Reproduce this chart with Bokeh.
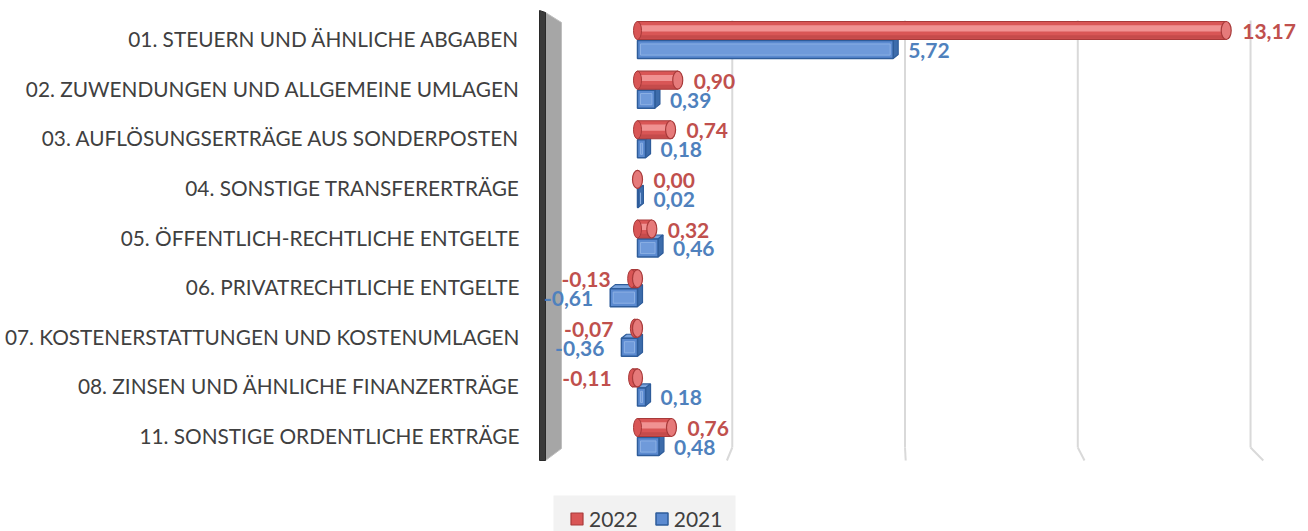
import numpy as np
from bokeh.plotting import figure
from bokeh.models import Range1d, FixedTicker, Legend, LegendItem, ColumnDataSource
from bokeh.core.properties import value
from bokeh.embed import file_html
from bokeh.resources import INLINE

# ---------------- data ----------------
categories = [
    "01. STEUERN UND ÄHNLICHE ABGABEN",
    "02. ZUWENDUNGEN UND ALLGEMEINE UMLAGEN",
    "03. AUFLÖSUNGSERTRÄGE AUS SONDERPOSTEN",
    "04. SONSTIGE TRANSFERERTRÄGE",
    "05. ÖFFENTLICH-RECHTLICHE ENTGELTE",
    "06. PRIVATRECHTLICHE ENTGELTE",
    "07. KOSTENERSTATTUNGEN UND KOSTENUMLAGEN",
    "08. ZINSEN UND ÄHNLICHE FINANZERTRÄGE",
    "11. SONSTIGE ORDENTLICHE ERTRÄGE",
]
values_2022 = [13.17, 0.90, 0.74, 0.00, 0.32, -0.13, -0.07, -0.11, 0.76]
values_2021 = [5.72, 0.39, 0.18, 0.02, 0.46, -0.61, -0.36, 0.18, 0.48]
series_names = ["2022", "2021"]
grid_values = [2, 6, 10, 14]

FONT = "Lato"
TXT = "#404040"
RED_TXT = "#c0504d"
BLUE_TXT = "#4f81bd"

# ---------------- geometry helpers (canvas pixels -> data) ----------------
X0, XPU = 637.0, 44.7      # front plane: value 0 at canvas x 637
Y0, YPC = 38.0, 49.625     # category 0 centre at canvas y 38
def fx(px):
    return (px - X0) / XPU
def fy(py):
    return (py - Y0) / YPC
def back_x(v):             # back wall mapping (perspective)
    return fx(559 + (v + 2) * 43.19)

W, H = 1308, 531
FL = 530
p = figure(width=W, height=H,
           x_range=Range1d(fx(FL), fx(W)),
           y_range=Range1d(fy(H), fy(0)),
           output_backend="svg", toolbar_location=None,
           min_border_left=FL, min_border_right=0,
           min_border_top=0, min_border_bottom=0)
p.xaxis.visible = False
p.xgrid.visible = False
p.ygrid.visible = False
p.outline_line_color = None
p.background_fill_color = "white"

# y axis with category labels
p.yaxis.ticker = FixedTicker(ticks=list(range(len(categories))))
p.yaxis.major_label_overrides = {i: c for i, c in enumerate(categories)}
p.yaxis.axis_line_color = None
p.yaxis.major_tick_line_color = None
p.yaxis.minor_tick_line_color = None
p.yaxis.major_tick_out = 0
p.yaxis.major_tick_in = 0
p.yaxis.major_label_standoff = 11
p.yaxis.major_label_text_font = FONT
p.yaxis.major_label_text_font_size = "20.8px"
p.yaxis.major_label_text_color = TXT

# ---------------- back wall gridlines + floor ----------------
gb = [back_x(g) for g in grid_values]
p.segment(x0=gb, y0=fy(20), x1=gb, y1=fy(447), line_color="#d9d9d9", line_width=2)
p.segment(x0=gb, y0=fy(447), x1=grid_values, y1=fy(460), line_color="#d9d9d9", line_width=2)

# left side wall
p.patch(x=[fx(545), fx(561), fx(561), fx(545)],
        y=[fy(12), fy(22), fy(448), fy(460)],
        fill_color="#a6a6a6", line_color="#bfbfbf", line_width=1)
p.patch(x=[fx(539), fx(545), fx(545), fx(539)],
        y=[fy(10), fy(12), fy(460), fy(460)],
        fill_color="#3a3a3a", line_color="#2a2a2a", line_width=1)

idx = np.arange(len(categories))
h = 0.363
dx = 5 / XPU
dy = 4 / YPC

# ---------------- 2021 : boxes ----------------
v21 = np.array(values_2021)
lo21 = np.minimum(v21, 0)
hi21 = np.maximum(v21, 0)
yb = idx + 0.222
top = yb - h / 2
bot = yb + h / 2
p.patches(xs=[[l, r, r + dx, l + dx] for l, r in zip(lo21, hi21)],
          ys=[[t, t, t - dy, t - dy] for t in top],
          fill_color="#7aa3dc", line_color="#2e5c9a", line_width=1.2)
p.patches(xs=[[r, r + dx, r + dx, r] for r in hi21],
          ys=[[t, t - dy, b - dy, b] for t, b in zip(top, bot)],
          fill_color="#3d6cab", line_color="#2e5c9a", line_width=1.2)
blue_main = p.hbar(y=yb, left=lo21, right=hi21, height=h,
                   fill_color="#5b8ad0", line_color="#2e5c9a", line_width=1.5)
p.hbar(y=yb, left=lo21 + 3 / XPU, right=np.maximum(hi21 - 3 / XPU, lo21 + 3 / XPU), height=h * 0.62,
       fill_color="#6f9ada", line_color="#8cb0e4", line_width=1)

# ---------------- 2022 : cylinders ----------------
v22 = np.array(values_2022)
lo22 = np.minimum(v22, 0)
hi22 = np.maximum(v22, 0)
yr = idx - 0.161
red_main = p.hbar(y=yr, left=lo22, right=hi22, height=h,
                  fill_color="#d95656", line_color="#a83a3a", line_width=1.2)
p.hbar(y=yr - h * 0.12, left=lo22, right=hi22, height=h * 0.34,
       fill_color="#f09292", line_color=None)
p.hbar(y=yr + h * 0.36, left=lo22, right=hi22, height=h * 0.2,
       fill_color="#b84444", line_color=None, fill_alpha=0.6)
p.ellipse(x=lo22, y=yr, width=8, height=h, width_units="screen",
          fill_color="#d95656", line_color="#a83a3a", line_width=1)
p.ellipse(x=hi22, y=yr, width=10, height=h, width_units="screen",
          fill_color="#e67a7a", line_color="#a83a3a", line_width=1.2)

# ---------------- value labels ----------------
def fmt(v):
    return f"{v:.2f}".replace(".", ",")

def add_labels(vals, ys, color, pos_off, neg_off):
    vals = np.array(vals)
    pos = vals >= 0
    neg = ~pos
    for mask, align, off in ((pos, "left", pos_off), (neg, "right", neg_off)):
        if mask.any():
            src = ColumnDataSource(dict(x=vals[mask], y=ys[mask],
                                        t=[fmt(v) for v in vals[mask]]))
            p.text(x="x", y="y", text="t", source=src, x_offset=off,
                   text_align=align, text_baseline="middle",
                   text_font=value(FONT), text_font_style="bold",
                   text_font_size="21px", text_color=color)

add_labels(values_2022, idx - 0.14, RED_TXT, 16, -21)
add_labels(values_2021, idx + 0.24, BLUE_TXT, 15, -17)

# ---------------- legend ----------------
p.quad(left=fx(553), right=fx(735), top=fy(495), bottom=fy(H),
       fill_color="#f2f2f2", line_color=None)
legend = Legend(items=[LegendItem(label=series_names[0], renderers=[red_main]),
                       LegendItem(label=series_names[1], renderers=[blue_main])],
                orientation="horizontal", location=(39, 0),
                background_fill_alpha=0, border_line_color=None,
                label_text_font=FONT, label_text_font_size="21px",
                label_text_color=TXT, glyph_width=15, glyph_height=15,
                label_standoff=5, spacing=16, padding=4, margin=0)
p.add_layout(legend)

open("out.html", "w").write(file_html(p, INLINE))
